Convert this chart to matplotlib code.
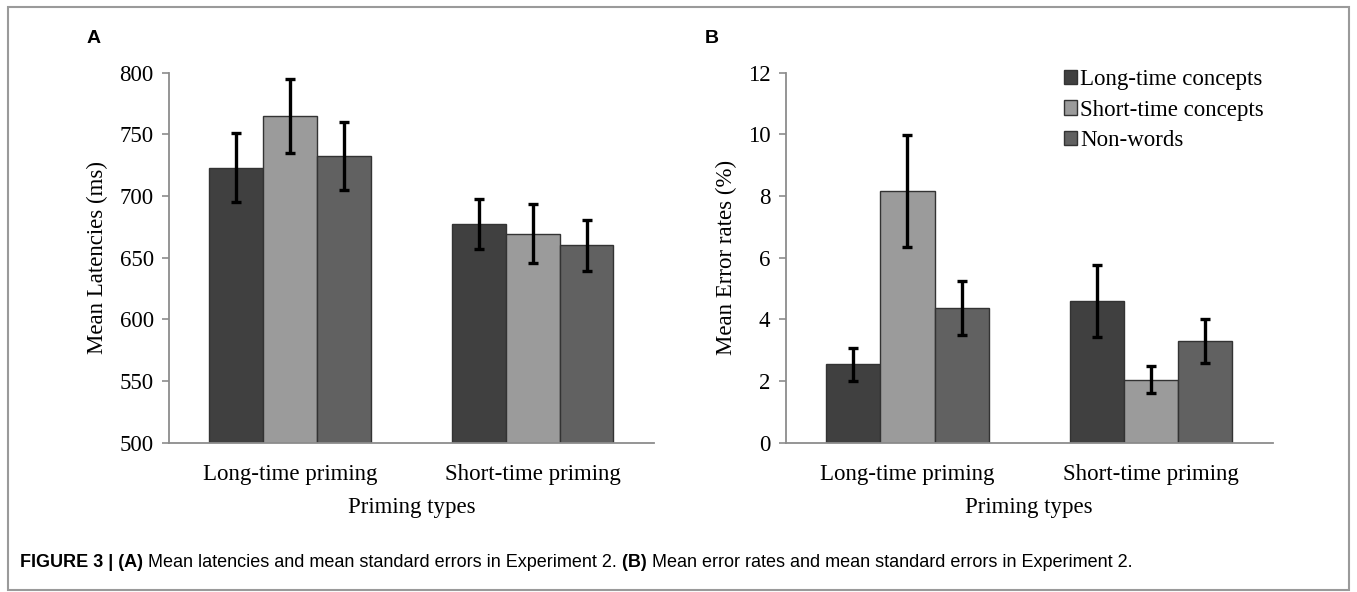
import numpy as np
import matplotlib
matplotlib.use("Agg")
import matplotlib.pyplot as plt
from matplotlib.patches import Rectangle

groups = ["Long-time priming", "Short-time priming"]
series = ["Long-time concepts", "Short-time concepts", "Non-words"]
colors = ["#404040", "#9b9b9b", "#616161"]

# panel A: mean latencies (ms)
lat_mean = [[723, 677.5], [765, 669.5], [732.5, 660]]
lat_err = [[28, 20.5], [30, 24], [27.5, 20.5]]

# panel B: mean error rates (%)
err_mean = [[2.55, 4.6], [8.17, 2.05], [4.37, 3.3]]
err_err = [[0.54, 1.16], [1.81, 0.43], [0.87, 0.72]]

plt.rcParams['font.family'] = ['Liberation Serif', 'DejaVu Serif']
FS = 16.5

fig = plt.figure(figsize=(13.57, 5.92), dpi=100)

axA = fig.add_axes([0.1245, 0.252, 0.3574, 0.625])
axB = fig.add_axes([0.579, 0.252, 0.359, 0.625])

w = 0.222
x = np.array([0.5, 1.5])


def draw(ax, means, errs, ylim, yticks, ylabel):
    for i in range(3):
        ax.bar(x + (i - 1) * w, means[i], width=w, color=colors[i],
               edgecolor="#333333", linewidth=1.0, label=series[i],
               yerr=errs[i], error_kw=dict(ecolor="black", elinewidth=2.4,
                                           capsize=3.5, capthick=2.4))
    ax.set_xlim(0, 2)
    ax.set_ylim(*ylim)
    ax.set_yticks(yticks)
    ax.set_xticks(x)
    ax.set_xticklabels(groups, fontsize=FS)
    ax.tick_params(axis="x", length=0, pad=15)
    ax.tick_params(axis="y", length=5, width=1.2, color="#8c8c8c",
                   labelsize=FS, pad=6)
    for s in ["top", "right"]:
        ax.spines[s].set_visible(False)
    for s in ["left", "bottom"]:
        ax.spines[s].set_color("#8c8c8c")
        ax.spines[s].set_linewidth(1.3)
    ax.set_xlabel("Priming types", fontsize=FS, labelpad=9)
    ax.set_ylabel(ylabel, fontsize=FS, labelpad=8)


draw(axA, lat_mean, lat_err, (500, 800), np.arange(500, 801, 50),
     "Mean Latencies (ms)")
draw(axB, err_mean, err_err, (0, 12), np.arange(0, 13, 2),
     "Mean Error rates (%)")

axB.legend(loc="upper right", bbox_to_anchor=(1.0, 1.035), frameon=False,
           fontsize=FS, handlelength=0.55, handleheight=0.6,
           handletextpad=0.15, labelspacing=0.42, borderaxespad=0)

fig.text(0.064, 0.935, "A", fontsize=14, fontweight="bold",
         family="Liberation Sans", va="center")
fig.text(0.519, 0.935, "B", fontsize=14, fontweight="bold",
         family="Liberation Sans", va="center")

# caption, pieces laid out one after another
caption = [("FIGURE 3 | (A) ", "bold"),
           ("Mean latencies and mean standard errors in Experiment 2. ", "normal"),
           ("(B) ", "bold"),
           ("Mean error rates and mean standard errors in Experiment 2.", "normal")]
renderer = fig.canvas.get_renderer()
xpos = 20
for txt, wt in caption:
    t = fig.text(xpos / fig.bbox.width, 0.049, txt, fontsize=13,
                 fontweight=wt, family="Liberation Sans", va="center")
    xpos += t.get_window_extent(renderer).width

fig.patches.append(Rectangle((0.006, 0.004), 0.988, 0.985,
                             transform=fig.transFigure, fill=False,
                             edgecolor="#9a9a9a", linewidth=1.5))

fig.savefig("out.png", dpi=100)
